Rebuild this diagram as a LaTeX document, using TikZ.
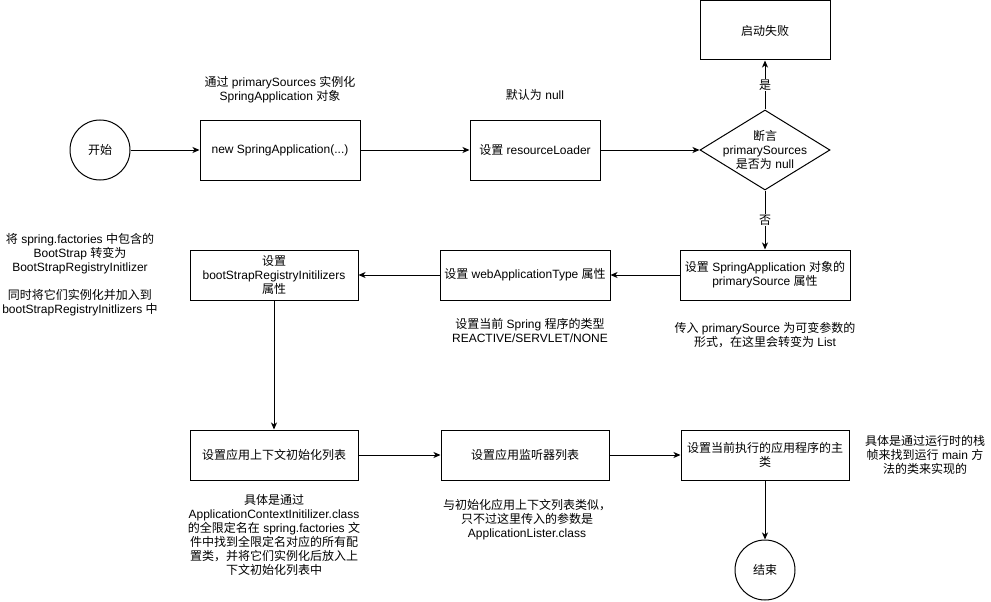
\documentclass[tikz,border=0pt]{standalone}
\usepackage{fontspec}
\setmainfont{Liberation Sans}
\newfontfamily\cjk{Noto Sans CJK SC}
\newcommand\zh[1]{{\cjk #1}}
\usetikzlibrary{arrows.meta,shapes.geometric}

\begin{document}
\begin{tikzpicture}[x=1pt,y=-1pt,line width=1pt,
font=\fontsize{12}{14}\selectfont,
box/.style = {
shape= rectangle,
draw,
inner sep=2pt,
align          = center,
text           = black},
note/.style = {align=center, inner sep=0pt},
flow/.style  = {-{Stealth[length=7pt,width=6pt,inset=2pt]}}
]
\useasboundingbox (0,0) rectangle (991,602);
\node (start) [draw,circle,minimum size=60pt,inner sep=0] at (100,150) {\zh{开始}};
\node (newapp) [box,minimum width=160pt,minimum height=60pt] at (280,150) {new SpringApplication(...)};
\node (loader) [box,minimum width=130pt,minimum height=60pt] at (535,150) {\zh{设置} resourceLoader};
\node (check) [draw,diamond,minimum width=130pt,minimum height=80pt,inner sep=0] at (765,150) {};
\node [note] at (check) {\zh{断言}\\primarySources\\\zh{是否为} null};
\node (fail) [box,minimum width=130pt,minimum height=59pt] at (765,30.5) {\zh{启动失败}};
\node (primary) [box,minimum width=170pt,minimum height=50pt] at (765,275) {\zh{设置} SpringApplication \zh{对象的}\\primarySource \zh{属性}};
\node (webtype) [box,minimum width=170pt,minimum height=50pt] at (525,275) {\zh{设置} webApplicationType \zh{属性}};
\node (bootstrap) [box,minimum width=168pt,minimum height=50pt] at (274,275) {\zh{设置}\\bootStrapRegistryInitilizers\\\zh{属性}};
\node (context) [box,minimum width=168pt,minimum height=50pt] at (274,455) {\zh{设置应用上下文初始化列表}};
\node (listener) [box,minimum width=168pt,minimum height=50pt] at (525,455) {\zh{设置应用监听器列表}};
\node (mainclass) [box,minimum width=168pt,minimum height=50pt,text width=160pt] at (765,455) {\zh{设置当前执行的应用程序的主}\\\zh{类}};
\node (stop) [draw,circle,minimum size=60pt,inner sep=0] at (765,570) {\zh{结束}};
%
\node (n1) [note] at (280,90) {\zh{通过} primarySources \zh{实例化}\\SpringApplication \zh{对象}};
\node (n2) [note] at (535,95) {\zh{默认为} null};
\node (n3) [note] at (80,275) {\zh{将} spring.factories \zh{中包含的}\\BootStrap \zh{转变为}\\BootStrapRegistryInitlizer\\[14pt]\zh{同时将它们实例化并加入到}\\bootStrapRegistryInitlizers \zh{中}};
\node (n4) [note] at (530,330) {\zh{设置当前} Spring \zh{程序的类型}\\REACTIVE/SERVLET/NONE};
\node (n5) [note] at (765,335) {\zh{传入} primarySource \zh{为可变参数的}\\\zh{形式，在这里会转变为} List};
\node (n6) [note] at (274,535) {\zh{具体是通过}\\ApplicationContextInitilizer.class\\\zh{的全限定名在} spring.factories \zh{文}\\\zh{件中找到全限定名对应的所有配}\\\zh{置类，并将它们实例化后放入上}\\\zh{下文初始化列表中}};
\node (n7) [note] at (527,520) {\zh{与初始化应用上下文列表类似，}\\\zh{只不过这里传入的参数是}\\ApplicationLister.class};
\node (n8) [note] at (925,455) {\zh{具体是通过运行时的栈}\\\zh{帧来找到运行} main \zh{方}\\\zh{法的类来实现的}};
%
\draw[flow] (start)-- (newapp);
\draw[flow] (newapp)-- (loader);
\draw[flow] (loader)-- (check);
\draw[flow] (check)-- node[fill=white,inner sep=1pt] {\zh{是}} (fail);
\draw[flow] (check)-- node[fill=white,inner sep=1pt] {\zh{否}} (primary);
\draw[flow] (primary)-- (webtype);
\draw[flow] (webtype)-- (bootstrap);
\draw[flow] (bootstrap)-- (context);
\draw[flow] (context)-- (listener);
\draw[flow] (listener)-- (mainclass);
\draw[flow] (mainclass)-- (stop);
%
\end{tikzpicture}
\end{document}
